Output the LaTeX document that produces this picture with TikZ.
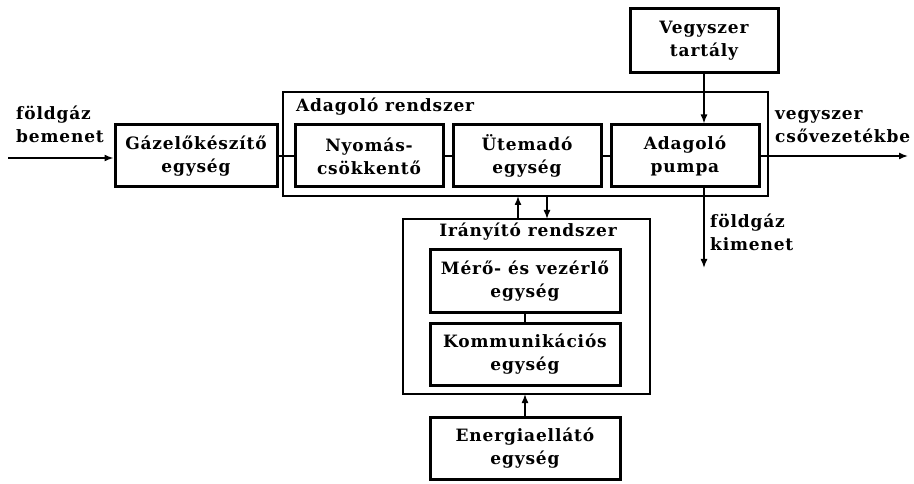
\documentclass[tikz,border=0pt]{standalone}
\usepackage{fontspec}
\setmainfont{DejaVu Serif}[LetterSpace=5]
\usetikzlibrary{positioning, arrows.meta}
\tikzset{
    every node/.style={font=\fontsize{17}{23}\selectfont\bfseries},
    unit/.style={draw, line width=3pt, inner sep=0pt, align=center,
        minimum width=148pt, minimum height=62pt},
    frame/.style={draw, line width=1.5pt},
    flow/.style={line width=1.5pt, -{Latex[length=9pt,width=7pt]}},
    link/.style={line width=1.5pt},
    tag/.style={align=left, inner sep=0pt},
}

\begin{document}
\begin{tikzpicture}[x=1pt, y=-1pt]
    \useasboundingbox (0,0) rectangle (914,484);

    % adagolo rendszer
    \draw[frame] (283,92) rectangle (768,196);
    \coordinate (adagtop) at (525,92);
    \coordinate (adagbot) at (525,196);
    \node[anchor=west, inner sep=0pt] (adagtitle) at (296,107) {Adagoló rendszer};

    \node[unit, minimum width=162pt] (gaz) at (196,156) {Gázelőkészítő\\egység};
    \node[unit] (nyomas) at (369,156) {Nyomás-\\csökkentő};
    \node[unit, right=7pt of nyomas] (utem) {Ütemadó\\egység};
    \node[unit, right=7pt of utem] (pumpa) {Adagoló\\pumpa};
    \node[unit, minimum height=64pt] (tartaly) at (704,41) {Vegyszer\\tartály};

    % iranyito rendszer
    \draw[frame] (403,219) rectangle (650,394);
    \coordinate (irtop) at (525,219);
    \node[inner sep=0pt] (irtitle) at (528,232) {Irányító rendszer};
    \node[unit, minimum width=190pt] (mero) at (525,281) {Mérő- és vezérlő\\egység};
    \node[unit, minimum width=190pt] (komm) at (525,354) {Kommunikációs\\egység};
    \coordinate (irbot) at (525,394);
    \node[unit, minimum width=190pt] (energia) at (525,448) {Energiaellátó\\egység};

    % be- es kimenetek
    \coordinate (be) at (8,158);
    \coordinate (ki) at (908,156);
    \coordinate (gazki) at (704,268);
    \node[tag, anchor=south west] (betag) at (16,143) {földgáz\\bemenet};
    \node[tag, anchor=south west] (kitag) at (775,143) {vegyszer\\csővezetékbe};
    \node[tag, anchor=north west] (gazkitag) at (710,214) {földgáz\\kimenet};

    \draw[flow] (be) -- (be -| gaz.west);
    \draw[link] (gaz) -- (nyomas);
    \draw[link] (nyomas) -- (utem);
    \draw[link] (utem) -- (pumpa);
    \draw[flow] (pumpa) -- (ki);
    \draw[flow] (tartaly) -- (tartaly |- pumpa.north);
    \draw[flow] (pumpa.south -| gazki) -- (gazki);
    \draw[flow] ([xshift=-7pt]irtop) -- ([xshift=-7pt]adagbot);
    \draw[flow] ([xshift=22pt]adagbot) -- ([xshift=22pt]irtop);
    \draw[link] (mero) -- (komm);
    \draw[flow] (energia) -- (irbot);
\end{tikzpicture}
\end{document}
